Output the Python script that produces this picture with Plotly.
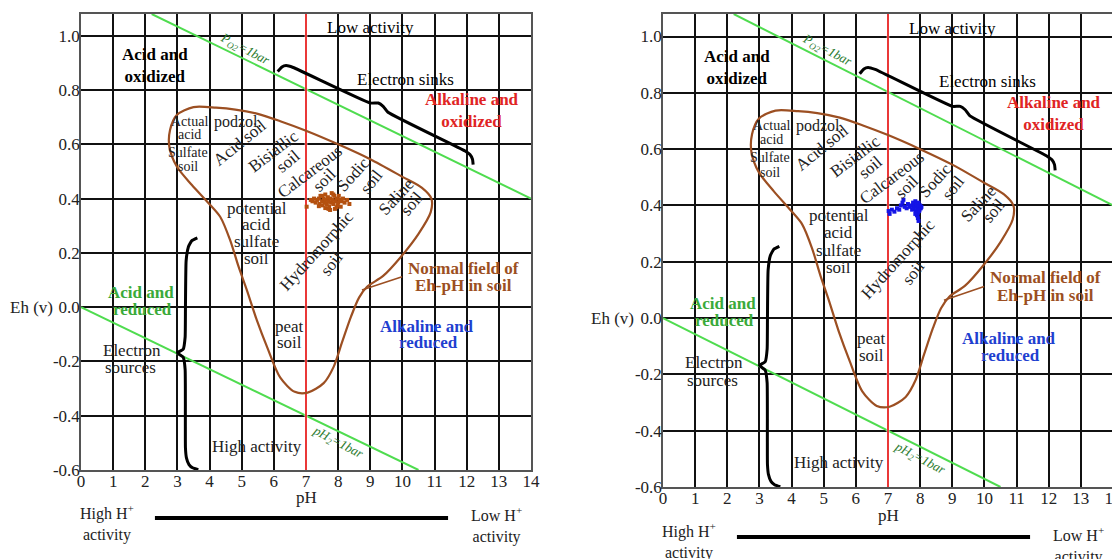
import plotly.graph_objects as go

# page has an 8px body margin: the figure starts at page pixel (8, 8)
OFF = 8
W, H = 1120 - OFF, 559 - OFF


def fx(px):
    return (px - OFF) / W


def fy(py):
    return 1 - (py - OFF) / H


# ---------------- data ----------------
ph_ticks = list(range(0, 15))
eh_ticks = [-0.6, -0.4, -0.2, 0.0, 0.2, 0.4, 0.6, 0.8, 1.0]
eh_ticktext = ["-0.6", "-0.4", "-0.2", "0.0", "0.2", "0.4", "0.6", "0.8", "1.0"]

# water stability limits
o2_ph = [2.2, 14.0]
o2_eh = [1.08, 0.40]
h2_ph = [0.0, 10.5]
h2_eh = [0.0, -0.6]

# neutral line
neutral_ph = [7, 7]
neutral_eh = [-0.6, 1.08]

# normal field of Eh-pH in soil (closed curve)
field_ph = [3.5, 4.2, 4.8, 5.5, 6.2, 7.0, 8.0, 9.0, 10.0, 10.6, 10.9, 10.88, 10.5, 9.95,
            9.4, 8.9, 8.65, 8.4, 8.12, 7.86, 7.55, 7.05, 6.65, 6.2, 5.8, 5.47, 5.16, 4.9,
            4.64, 4.33, 3.97, 3.45, 2.98, 2.75, 2.77, 2.98, 3.5]
field_eh = [0.737, 0.735, 0.728, 0.712, 0.685, 0.65, 0.60, 0.545, 0.48, 0.44, 0.40, 0.35,
            0.27, 0.185, 0.115, 0.075, 0.035, -0.035, -0.13, -0.22, -0.28, -0.315, -0.312,
            -0.26, -0.15, -0.048, 0.063, 0.15, 0.247, 0.333, 0.383, 0.45, 0.518, 0.59,
            0.653, 0.708, 0.737]

leader_ph = [8.74, 9.99]
leader_eh = [0.063, 0.112]

# braces
sinks_ph = [6.12, 6.25, 6.38, 6.6, 9.0, 9.25, 9.4, 9.55, 11.95, 12.1, 12.18, 12.2]
sinks_eh = [0.868, 0.885, 0.89, 0.883, 0.752, 0.752, 0.74, 0.718, 0.575, 0.562, 0.545, 0.525]
src_ph = [3.62, 3.45, 3.34, 3.27, 3.25, 3.24, 3.18, 3.0, 3.18, 3.24, 3.25, 3.28, 3.36, 3.47, 3.65]
src_eh = [0.255, 0.245, 0.222, 0.17, 0.0, -0.11, -0.155, -0.168, -0.185, -0.23, -0.52,
          -0.555, -0.58, -0.592, -0.599]

# measured soil samples (left panel)
ph_a = [7.02, 7.15, 7.2, 7.25, 7.3, 7.35, 7.4, 7.42, 7.45, 7.5, 7.52, 7.55, 7.58, 7.6, 7.62,
        7.65, 7.68, 7.7, 7.72, 7.75, 7.78, 7.8, 7.82, 7.85, 7.88, 7.9, 7.92, 7.95, 7.98, 8.0,
        8.02, 8.05, 8.08, 8.1, 8.15, 8.2, 8.28, 8.35, 7.6, 7.7, 7.85, 7.95, 7.5, 7.4, 7.75]
eh_a = [0.37, 0.395, 0.39, 0.40, 0.385, 0.395, 0.40, 0.38, 0.41, 0.39, 0.375, 0.40, 0.385,
        0.415, 0.395, 0.38, 0.405, 0.39, 0.37, 0.40, 0.385, 0.42, 0.395, 0.38, 0.41, 0.362,
        0.39, 0.40, 0.375, 0.385, 0.41, 0.395, 0.37, 0.39, 0.40, 0.385, 0.395, 0.38, 0.365,
        0.362, 0.415, 0.368, 0.41, 0.372, 0.358]

# measured soil samples (right panel)
ph_b = [7.02, 7.05, 7.12, 7.2, 7.28, 7.35, 7.4, 7.45, 7.48, 7.52, 7.58, 7.62, 7.68, 7.72,
        7.75, 7.78, 7.8, 7.82, 7.85, 7.87, 7.88, 7.9, 7.92, 7.93, 7.95, 7.96, 7.98, 8.0,
        8.02, 8.04, 7.9, 7.93, 7.95, 7.92, 7.85, 7.97]
eh_b = [0.38, 0.37, 0.385, 0.378, 0.39, 0.385, 0.40, 0.41, 0.42, 0.395, 0.39, 0.405, 0.395,
        0.40, 0.385, 0.41, 0.39, 0.40, 0.415, 0.38, 0.395, 0.405, 0.39, 0.375, 0.41, 0.395,
        0.385, 0.40, 0.39, 0.395, 0.365, 0.355, 0.345, 0.37, 0.37, 0.38]

# ---------------- style ----------------
SERIF = "Liberation Serif, Times New Roman, serif"
GREEN_LINE = "#4fdc4f"
GREEN_TXT = "#2e7d32"
BROWN = "#9c4f22"
RED = "#e02424"
BLUE = "#1f3fd0"

panels = [
    dict(xa="x", ya="y", xdom=(fx(81), fx(531)), ydom=(fy(470), fy(14)),
         ph=ph_a, eh=eh_a, color="#b4500f", msize=4, eh_x=fx(31),
         bar_y=fy(518), hi_y=fy(523), lo_y=fy(525), ph_y=fy(497)),
    dict(xa="x2", ya="y2", xdom=(fx(663), fx(1113)), ydom=(fy(487), fy(14)),
         ph=ph_b, eh=eh_b, color="#1414e6", msize=4, eh_x=fx(613),
         bar_y=fy(537), hi_y=fy(541), lo_y=fy(545), ph_y=fy(515)),
]

# text labels: (text, pH, Eh, size, color, angle)
labels = [
    ("Low activity", 9.0, 1.03, 17, "black", 0),
    ("<b>Acid and<br>oxidized</b>", 2.3, 0.89, 17, "black", 0),
    ("<i>P<sub>O2</sub>=1bar</i>", 5.1, 0.95, 13, GREEN_TXT, 28),
    ("Electron sinks", 10.1, 0.84, 17, "black", 0),
    ("<b>Alkaline and<br>oxidized</b>", 12.15, 0.726, 17, RED, 0),
    ("Actual", 3.39, 0.683, 14, "#222", 0),
    ("acid", 3.39, 0.635, 14, "#222", 0),
    ("Sulfate", 3.33, 0.570, 14, "#222", 0),
    ("soil", 3.33, 0.518, 14, "#222", 0),
    ("podzol.", 4.88, 0.683, 16, "#222", 0),
    ("Acid soil", 4.95, 0.605, 17, "#222", -39),
    ("Bisiallic", 5.98, 0.573, 17, "#222", -37),
    ("soil", 6.44, 0.535, 17, "#222", -40),
    ("Calcareous", 7.12, 0.50, 17, "#222", -37),
    ("soil", 7.59, 0.469, 17, "#222", -45),
    ("Sodic", 8.47, 0.487, 17, "#222", -48),
    ("soil", 9.04, 0.462, 17, "#222", -52),
    ("Saline", 9.82, 0.407, 17, "#222", -47),
    ("soil", 10.29, 0.383, 17, "#222", -50),
    ("potential", 5.47, 0.364, 17, "#222", 0),
    ("acid", 5.47, 0.303, 17, "#222", 0),
    ("sulfate", 5.47, 0.241, 17, "#222", 0),
    ("soil", 5.47, 0.180, 17, "#222", 0),
    ("Hydromorphic", 7.33, 0.21, 17, "#222", -48),
    ("soil", 7.8, 0.161, 17, "#222", -52),
    ("<b>Normal field of</b>", 11.9, 0.143, 17, BROWN, 0),
    ("<b>Eh-pH in soil</b>", 11.9, 0.081, 17, BROWN, 0),
    ("<b>Acid and</b>", 1.88, 0.053, 17, "#3aaa3a", 0),
    ("<b>reduced</b>", 1.9, -0.008, 17, "#3aaa3a", 0),
    ("Electron", 1.58, -0.159, 17, "#222", 0),
    ("sources", 1.55, -0.223, 17, "#222", 0),
    ("peat", 6.5, -0.073, 17, "#222", 0),
    ("soil", 6.5, -0.132, 17, "#222", 0),
    ("<b>Alkaline and</b>", 10.77, -0.073, 17, BLUE, 0),
    ("<b>reduced</b>", 10.8, -0.132, 17, BLUE, 0),
    ("High activity", 5.47, -0.513, 17, "#222", 0),
    ("<i>pH<sub>2</sub>=1bar</i>", 7.98, -0.50, 13, GREEN_TXT, 28),
]

fig = go.Figure()
annotations = []
shapes = []


def ann(text, x, y, xref, yref, size, color="#222", angle=0):
    return dict(text=text, x=x, y=y, xref=xref, yref=yref, showarrow=False,
                xanchor="center", yanchor="middle", textangle=angle,
                font=dict(family=SERIF, size=size, color=color))


for i, p in enumerate(panels):
    xa, ya = p["xa"], p["ya"]
    common = dict(xaxis=xa, yaxis=ya, hoverinfo="skip", showlegend=False)
    fig.add_trace(go.Scatter(x=o2_ph, y=o2_eh, mode="lines",
                             line=dict(color=GREEN_LINE, width=2), **common))
    fig.add_trace(go.Scatter(x=h2_ph, y=h2_eh, mode="lines",
                             line=dict(color=GREEN_LINE, width=2), **common))
    fig.add_trace(go.Scatter(x=neutral_ph, y=neutral_eh, mode="lines",
                             line=dict(color="white", width=2.6), **common))
    fig.add_trace(go.Scatter(x=neutral_ph, y=neutral_eh, mode="lines",
                             line=dict(color="#e82222", width=1.8), **common))
    fig.add_trace(go.Scatter(x=field_ph, y=field_eh, mode="lines",
                             line=dict(color=BROWN, width=2.2, shape="spline", smoothing=0.8),
                             **common))
    fig.add_trace(go.Scatter(x=leader_ph, y=leader_eh, mode="lines",
                             line=dict(color=BROWN, width=1.5), **common))
    fig.add_trace(go.Scatter(x=sinks_ph, y=sinks_eh, mode="lines",
                             line=dict(color="black", width=3, shape="spline", smoothing=0.4),
                             **common))
    fig.add_trace(go.Scatter(x=src_ph, y=src_eh, mode="lines",
                             line=dict(color="black", width=3, shape="spline", smoothing=0.4),
                             **common))
    fig.add_trace(go.Scatter(x=p["ph"], y=p["eh"], mode="markers",
                             marker=dict(color=p["color"], size=p["msize"], symbol="square"),
                             **common))

    for (t, x, y, s, c, a) in labels:
        annotations.append(ann(t, x, y, xa, ya, s, c, a))

    annotations.append(ann("Eh (v)", p["eh_x"], 0.0, "paper", ya, 17))
    annotations.append(ann("pH", 7, p["ph_y"], xa, "paper", 17))
    annotations.append(ann("High H<sup>+</sup><br>activity", 0.8, p["hi_y"], xa, "paper", 16))
    annotations.append(ann("Low H<sup>+</sup><br>activity", 12.92, p["lo_y"], xa, "paper", 16))
    shapes.append(dict(type="line", xref=xa, yref="paper", x0=2.3, x1=11.42,
                       y0=p["bar_y"], y1=p["bar_y"], line=dict(color="black", width=4)))

axis_common = dict(showgrid=True, gridcolor="#111", gridwidth=1.6, zeroline=False,
                   showline=True, mirror=True, linecolor="#555", linewidth=1.5,
                   ticks="", automargin=False, ticklabeloverflow="allow",
                   tickfont=dict(family=SERIF, size=17, color="#222"))

layout = dict(
    width=W, height=H, margin=dict(l=0, r=0, t=0, b=0, pad=0, autoexpand=False),
    paper_bgcolor="white", plot_bgcolor="white",
    annotations=annotations, shapes=shapes, showlegend=False,
)
for i, p in enumerate(panels):
    sfx = "" if i == 0 else "2"
    layout["xaxis" + sfx] = dict(domain=list(p["xdom"]), range=[0, 14], tickvals=ph_ticks,
                                 anchor="y" + sfx, ticklabelstandoff=-5, **axis_common)
    layout["yaxis" + sfx] = dict(domain=list(p["ydom"]), range=[-0.6, 1.08], tickvals=eh_ticks,
                                 ticktext=eh_ticktext, anchor="x" + sfx,
                                 ticklabelstandoff=-4, **axis_common)

fig.update_layout(**layout)
fig.write_html("out.html")
